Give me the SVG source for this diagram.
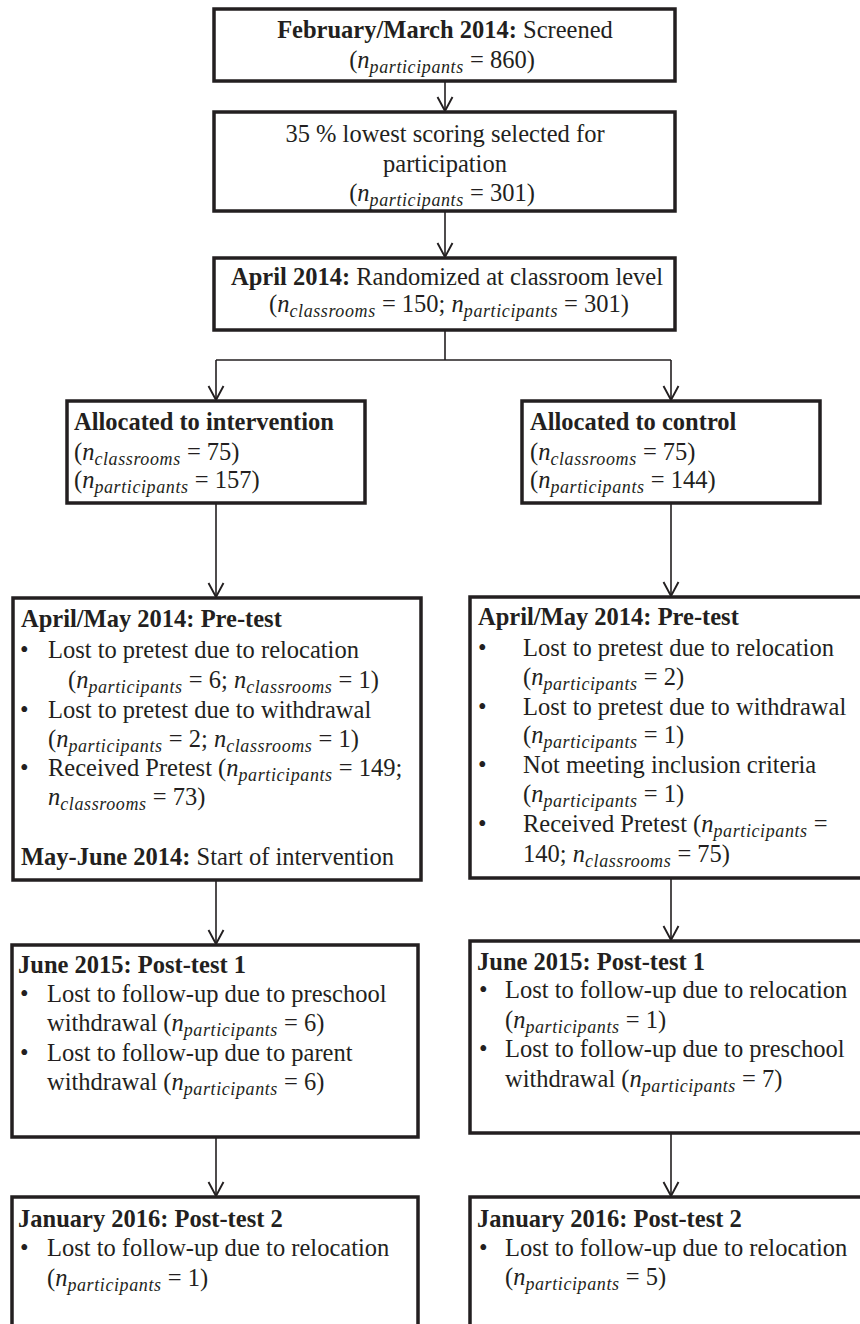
<svg xmlns="http://www.w3.org/2000/svg" width="860" height="1324" viewBox="0 0 860 1324">
<style>
.box{fill:#fff;stroke:#231f20;stroke-width:3.5}
.t{font-family:"Liberation Serif","Times New Roman",serif;font-size:24.5px;fill:#231f20}
.c{text-anchor:middle}
.b{font-weight:bold}
.i{font-style:italic}
.s{font-style:italic;font-size:18px;letter-spacing:0.6px}
.conn{stroke:#231f20;stroke-width:1.6;fill:none}
</style>
<defs>
<marker id="arr" markerUnits="userSpaceOnUse" markerWidth="34" markerHeight="34" viewBox="-17 -17 34 34" refX="0" refY="0" orient="auto" overflow="visible">
<path d="M-14,-7.5 L0,0 L-14,7.5" fill="none" stroke="#231f20" stroke-width="1.9"/>
</marker>
</defs>
<rect width="860" height="1324" fill="#fff"/>
<g id="connectors">
<line class="conn" x1="445" y1="81" x2="445" y2="111" marker-end="url(#arr)"/>
<line class="conn" x1="445" y1="211" x2="445" y2="257" marker-end="url(#arr)"/>
<polyline class="conn" points="445,330 445,360"/>
<polyline class="conn" points="216,360 671,360"/>
<line class="conn" x1="216" y1="360" x2="216" y2="400" marker-end="url(#arr)"/>
<line class="conn" x1="671" y1="360" x2="671" y2="400" marker-end="url(#arr)"/>
<line class="conn" x1="216" y1="503" x2="216" y2="597" marker-end="url(#arr)"/>
<line class="conn" x1="671" y1="503" x2="671" y2="596" marker-end="url(#arr)"/>
<line class="conn" x1="216" y1="880" x2="216" y2="944" marker-end="url(#arr)"/>
<line class="conn" x1="671" y1="878" x2="671" y2="940" marker-end="url(#arr)"/>
<line class="conn" x1="216" y1="1137" x2="216" y2="1196" marker-end="url(#arr)"/>
<line class="conn" x1="671" y1="1133" x2="671" y2="1196" marker-end="url(#arr)"/>
</g>
<g id="screened">
<rect class="box" x="214" y="9" width="461" height="72"/>
<text class="t c" x="445" y="38"><tspan class="b">February/March 2014:</tspan> Screened</text>
<text class="t c" x="442" y="68">(<tspan class="i">n</tspan><tspan class="s" dy="5">participants</tspan><tspan dy="-5"> = 860)</tspan></text>
</g>
<g id="selected">
<rect class="box" x="214" y="112" width="461" height="99"/>
<text class="t c" x="445" y="142">35 % lowest scoring selected for</text>
<text class="t c" x="445" y="172">participation</text>
<text class="t c" x="442" y="201">(<tspan class="i">n</tspan><tspan class="s" dy="5">participants</tspan><tspan dy="-5"> = 301)</tspan></text>
</g>
<g id="randomized">
<rect class="box" x="214" y="258" width="461" height="72"/>
<text class="t c" x="447" y="285"><tspan class="b">April 2014:</tspan> Randomized at classroom level</text>
<text class="t c" x="449" y="312">(<tspan class="i">n</tspan><tspan class="s" dy="5">classrooms</tspan><tspan dy="-5"> = 150; </tspan><tspan class="i">n</tspan><tspan class="s" dy="5">participants</tspan><tspan dy="-5"> = 301)</tspan></text>
</g>
<g id="alloc-intervention">
<rect class="box" x="67" y="401" width="298" height="102"/>
<text class="t b" x="74" y="430">Allocated to intervention</text>
<text class="t" x="74" y="460">(<tspan class="i">n</tspan><tspan class="s" dy="5">classrooms</tspan><tspan dy="-5"> = 75)</tspan></text>
<text class="t" x="74" y="488">(<tspan class="i">n</tspan><tspan class="s" dy="5">participants</tspan><tspan dy="-5"> = 157)</tspan></text>
</g>
<g id="alloc-control">
<rect class="box" x="522" y="401" width="298" height="102"/>
<text class="t b" x="530" y="430">Allocated to control</text>
<text class="t" x="530" y="460">(<tspan class="i">n</tspan><tspan class="s" dy="5">classrooms</tspan><tspan dy="-5"> = 75)</tspan></text>
<text class="t" x="530" y="488">(<tspan class="i">n</tspan><tspan class="s" dy="5">participants</tspan><tspan dy="-5"> = 144)</tspan></text>
</g>
<g id="pretest-intervention">
<rect class="box" x="13" y="598" width="408" height="282"/>
<text class="t b" x="21" y="627">April/May 2014: Pre-test</text>
<text class="t" x="20" y="658">•</text>
<text class="t" x="48" y="658">Lost to pretest due to relocation</text>
<text class="t" x="68" y="688">(<tspan class="i">n</tspan><tspan class="s" dy="5">participants</tspan><tspan dy="-5"> = 6; </tspan><tspan class="i">n</tspan><tspan class="s" dy="5">classrooms</tspan><tspan dy="-5"> = 1)</tspan></text>
<text class="t" x="20" y="718">•</text>
<text class="t" x="48" y="718">Lost to pretest due to withdrawal</text>
<text class="t" x="48" y="747">(<tspan class="i">n</tspan><tspan class="s" dy="5">participants</tspan><tspan dy="-5"> = 2; </tspan><tspan class="i">n</tspan><tspan class="s" dy="5">classrooms</tspan><tspan dy="-5"> = 1)</tspan></text>
<text class="t" x="20" y="776">•</text>
<text class="t" x="48" y="776">Received Pretest (<tspan class="i">n</tspan><tspan class="s" dy="5">participants</tspan><tspan dy="-5"> = 149;</tspan></text>
<text class="t" x="48" y="805"><tspan class="i">n</tspan><tspan class="s" dy="5">classrooms</tspan><tspan dy="-5"> = 73)</tspan></text>
<text class="t" x="21" y="865"><tspan class="b">May-June 2014:</tspan> Start of intervention</text>
</g>
<g id="pretest-control">
<rect class="box" x="470" y="597" width="394" height="281"/>
<text class="t b" x="478" y="625">April/May 2014: Pre-test</text>
<text class="t" x="478" y="656">•</text>
<text class="t" x="523" y="656">Lost to pretest due to relocation</text>
<text class="t" x="523" y="685">(<tspan class="i">n</tspan><tspan class="s" dy="5">participants</tspan><tspan dy="-5"> = 2)</tspan></text>
<text class="t" x="478" y="715">•</text>
<text class="t" x="523" y="715">Lost to pretest due to withdrawal</text>
<text class="t" x="523" y="743">(<tspan class="i">n</tspan><tspan class="s" dy="5">participants</tspan><tspan dy="-5"> = 1)</tspan></text>
<text class="t" x="478" y="773">•</text>
<text class="t" x="523" y="773">Not meeting inclusion criteria</text>
<text class="t" x="523" y="802">(<tspan class="i">n</tspan><tspan class="s" dy="5">participants</tspan><tspan dy="-5"> = 1)</tspan></text>
<text class="t" x="478" y="832">•</text>
<text class="t" x="523" y="832">Received Pretest (<tspan class="i">n</tspan><tspan class="s" dy="5">participants</tspan><tspan dy="-5"> =</tspan></text>
<text class="t" x="523" y="862">140; <tspan class="i">n</tspan><tspan class="s" dy="5">classrooms</tspan><tspan dy="-5"> = 75)</tspan></text>
</g>
<g id="posttest1-intervention">
<rect class="box" x="12" y="945" width="406" height="192"/>
<text class="t b" x="18" y="973">June 2015: Post-test 1</text>
<text class="t" x="20" y="1002">•</text>
<text class="t" x="47" y="1002">Lost to follow-up due to preschool</text>
<text class="t" x="47" y="1031">withdrawal (<tspan class="i">n</tspan><tspan class="s" dy="5">participants</tspan><tspan dy="-5"> = 6)</tspan></text>
<text class="t" x="20" y="1061">•</text>
<text class="t" x="47" y="1061">Lost to follow-up due to parent</text>
<text class="t" x="47" y="1090">withdrawal (<tspan class="i">n</tspan><tspan class="s" dy="5">participants</tspan><tspan dy="-5"> = 6)</tspan></text>
</g>
<g id="posttest1-control">
<rect class="box" x="470" y="941" width="394" height="192"/>
<text class="t b" x="477" y="970">June 2015: Post-test 1</text>
<text class="t" x="479" y="998">•</text>
<text class="t" x="505" y="998">Lost to follow-up due to relocation</text>
<text class="t" x="505" y="1028">(<tspan class="i">n</tspan><tspan class="s" dy="5">participants</tspan><tspan dy="-5"> = 1)</tspan></text>
<text class="t" x="479" y="1057">•</text>
<text class="t" x="505" y="1057">Lost to follow-up due to preschool</text>
<text class="t" x="505" y="1087">withdrawal (<tspan class="i">n</tspan><tspan class="s" dy="5">participants</tspan><tspan dy="-5"> = 7)</tspan></text>
</g>
<g id="posttest2-intervention">
<rect class="box" x="12" y="1197" width="406" height="140"/>
<text class="t b" x="18" y="1227">January 2016: Post-test 2</text>
<text class="t" x="20" y="1256">•</text>
<text class="t" x="47" y="1256">Lost to follow-up due to relocation</text>
<text class="t" x="47" y="1286">(<tspan class="i">n</tspan><tspan class="s" dy="5">participants</tspan><tspan dy="-5"> = 1)</tspan></text>
</g>
<g id="posttest2-control">
<rect class="box" x="470" y="1197" width="394" height="140"/>
<text class="t b" x="477" y="1227">January 2016: Post-test 2</text>
<text class="t" x="479" y="1256">•</text>
<text class="t" x="505" y="1256">Lost to follow-up due to relocation</text>
<text class="t" x="505" y="1285">(<tspan class="i">n</tspan><tspan class="s" dy="5">participants</tspan><tspan dy="-5"> = 5)</tspan></text>
</g>
</svg>
